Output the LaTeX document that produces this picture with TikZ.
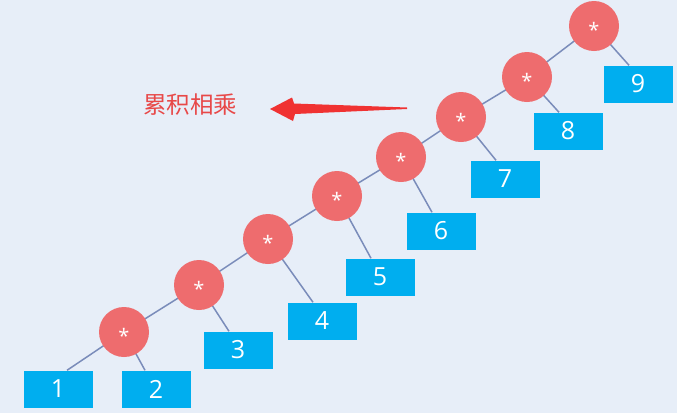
\documentclass[tikz,border=0pt]{standalone}
\usepackage{fontspec}
\setmainfont{Open Sans}
\newfontfamily\cjk{Noto Sans CJK SC}
\definecolor{bgcol}{RGB}{231,238,248}
\definecolor{circcol}{RGB}{238,108,110}
\definecolor{boxcol}{RGB}{0,174,239}
\definecolor{edgecol}{RGB}{122,140,186}
\definecolor{arrowred}{RGB}{240,50,50}
\definecolor{textred}{RGB}{232,72,72}
\pgfdeclarelayer{edgelayer}
\pgfsetlayers{edgelayer,main}
\tikzset{
  opnode/.style={circle, fill=circcol, draw=none, minimum size=50pt, inner sep=0pt,
    label={[text=white, font=\fontsize{20}{20}\selectfont, yshift=-4pt]center:*}},
  numbox/.style={rectangle, fill=boxcol, draw=none, minimum width=69pt, minimum height=37pt,
    inner sep=0pt, text=white, font=\fontsize{25}{25}\selectfont},
  link/.style={draw=edgecol, line width=1.5pt}
}
\begin{document}
\begin{tikzpicture}[x=1pt,y=-1pt]
\begin{pgfonlayer}{edgelayer}
\fill[bgcol] (0,0) rectangle (677,413);
\end{pgfonlayer}
\useasboundingbox (0,0) rectangle (677,413);
% operator circles
\node[opnode] (c1) at (124,332) {};
\node[opnode] (c2) at (199,285) {};
\node[opnode] (c3) at (268,239) {};
\node[opnode] (c4) at (337,196) {};
\node[opnode] (c5) at (401,157) {};
\node[opnode] (c6) at (461,117) {};
\node[opnode] (c7) at (527,77) {};
\node[opnode] (c8) at (594,26) {};
% number boxes
\node[numbox] (b1) at (58,389) {1};
\node[numbox] (b2) at (156,389) {2};
\node[numbox] (b3) at (238,350) {3};
\node[numbox] (b4) at (322,321) {4};
\node[numbox] (b5) at (380,277) {5};
\node[numbox] (b6) at (441,231) {6};
\node[numbox] (b7) at (505,179) {7};
\node[numbox] (b8) at (568,131) {8};
\node[numbox] (b9) at (638,84) {9};
% connectors
\begin{pgfonlayer}{edgelayer}
\draw[link] (c1.center) -- (c2.center) -- (c3.center) -- (c4.center) -- (c5.center) -- (c6.center) -- (c7.center) -- (c8.center);
\draw[link] (c1.center) -- ([xshift=9pt]b1.north);
\draw[link] (c1.center) -- ([xshift=-11pt]b2.north);
\draw[link] (c2.center) -- ([xshift=-9pt]b3.north);
\draw[link] (c3.center) -- ([xshift=-9pt]b4.north);
\draw[link] (c4.center) -- ([xshift=-9pt]b5.north);
\draw[link] (c5.center) -- ([xshift=-9pt]b6.north);
\draw[link] (c6.center) -- ([xshift=-9pt]b7.north);
\draw[link] (c7.center) -- ([xshift=-9pt]b8.north);
\draw[link] (c8.center) -- ([xshift=-9pt]b9.north);
\end{pgfonlayer}
% label and arrow
\node[text=textred, font=\cjk\fontsize{23.5}{23.5}\selectfont, inner sep=0pt] (lbl) at (190,105) {累积相乘};
\coordinate (tail) at (407,107.5);
\fill[arrowred] (270,109) -- (292,97.5) -- (294,103.5) -- (tail) -- (407,109) -- (295,114) -- (293,121) -- cycle;
\end{tikzpicture}
\end{document}
